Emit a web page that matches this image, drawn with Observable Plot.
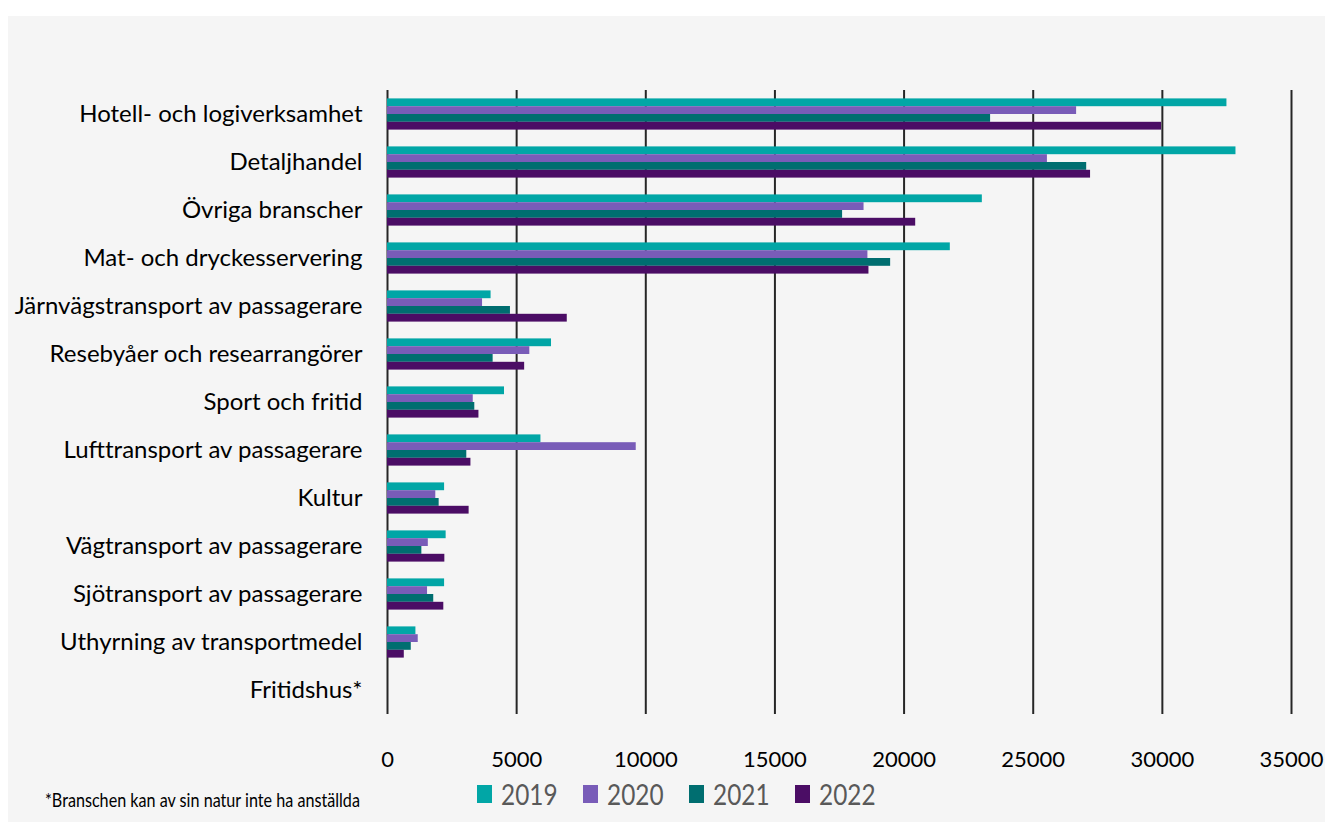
<!DOCTYPE html>
<html>
<head>
<meta charset="utf-8">
<script src="https://cdn.jsdelivr.net/npm/d3@7"></script>
<script src="https://cdn.jsdelivr.net/npm/@observablehq/plot@0.6"></script>
<style>
  html, body { margin: 0; padding: 0; background: #ffffff; }
  #bg { position: absolute; left: 8px; top: 16px; width: 1317px; height: 806px; background: #f5f5f5; }
  #chart { position: absolute; left: 0; top: 0; }
  #chart g[aria-label="fy-axis tick label"] { font-size: 24px; }
  #legend { position: absolute; left: 477px; top: 778px; display: flex; font-family: Lato, "Open Sans", sans-serif; }
  .item { width: 106px; display: flex; align-items: center; height: 32px; }
  .sw { width: 15px; height: 18px; margin-right: 9px; flex: none; }
  .lab { font-size: 29px; color: #595959; transform: scaleX(0.84); transform-origin: left center; line-height: 32px; }
  #note { position: absolute; left: 45px; top: 788px; font-family: Lato, "Open Sans", sans-serif; font-size: 19px; color: #000; transform: scaleX(0.85); transform-origin: left center; white-space: nowrap; }
</style>
</head>
<body>
<div id="bg"></div>
<div id="chart"></div>
<div id="legend"></div>
<div id="note">*Branschen kan av sin natur inte ha anställda</div>
<script>
const categories = [
  "Hotell- och logiverksamhet",
  "Detaljhandel",
  "Övriga branscher",
  "Mat- och dryckesservering",
  "Järnvägstransport av passagerare",
  "Resebyåer och researrangörer",
  "Sport och fritid",
  "Lufttransport av passagerare",
  "Kultur",
  "Vägtransport av passagerare",
  "Sjötransport av passagerare",
  "Uthyrning av transportmedel",
  "Fritidshus*"
];
const years = ["2019", "2020", "2021", "2022"];
const colors = ["#01a6a6", "#795cb8", "#006e70", "#4b0d65"];
const v2019 = [32500, 32850, 23030, 21790, 4010, 6350, 4530, 5940, 2210, 2270, 2210, 1100, 0];
const v2020 = [26680, 25550, 18450, 18600, 3680, 5510, 3320, 9630, 1870, 1580, 1550, 1190, 0];
const v2021 = [23350, 27070, 17620, 19480, 4760, 4090, 3380, 3070, 2000, 1330, 1790, 920, 0];
const v2022 = [29970, 27220, 20450, 18640, 6960, 5310, 3540, 3230, 3160, 2220, 2180, 650, 0];
const xTicks = [0, 5000, 10000, 15000, 20000, 25000, 30000, 35000];

const series = [v2019, v2020, v2021, v2022];
const data = [];
categories.forEach((c, i) => {
  years.forEach((y, j) => data.push({cat: c, year: y, value: series[j][i]}));
});

const plot = Plot.plot({
  width: 1325,
  height: 775,
  marginTop: 90,
  marginBottom: 61,
  marginLeft: 387,
  marginRight: 34,
  style: {fontFamily: "Lato, 'Open Sans', sans-serif", fontSize: "22px", color: "#000", background: "transparent", overflow: "visible"},
  x: {domain: [0, 35000], ticks: xTicks, tickSize: 0, tickPadding: 37, tickFormat: d => String(d), label: null},
  fy: {domain: categories, padding: 0, round: false, axis: "left", tickSize: 0, tickPadding: 25, label: null},
  y: {domain: years, axis: null, paddingInner: 0, paddingOuter: 1.077, round: false},
  color: {domain: years, range: colors},
  marks: [
    Plot.ruleX(xTicks, {stroke: "#262626", strokeWidth: 2}),
    Plot.barX(data, {fy: "cat", y: "year", x: "value", fill: "year"})
  ]
});
document.getElementById("chart").appendChild(plot);

const legend = document.getElementById("legend");
years.forEach((y, j) => {
  const it = document.createElement("div");
  it.className = "item";
  it.innerHTML = `<span class="sw" style="background:${colors[j]}"></span><span class="lab">${y}</span>`;
  legend.appendChild(it);
});
</script>
</body>
</html>
